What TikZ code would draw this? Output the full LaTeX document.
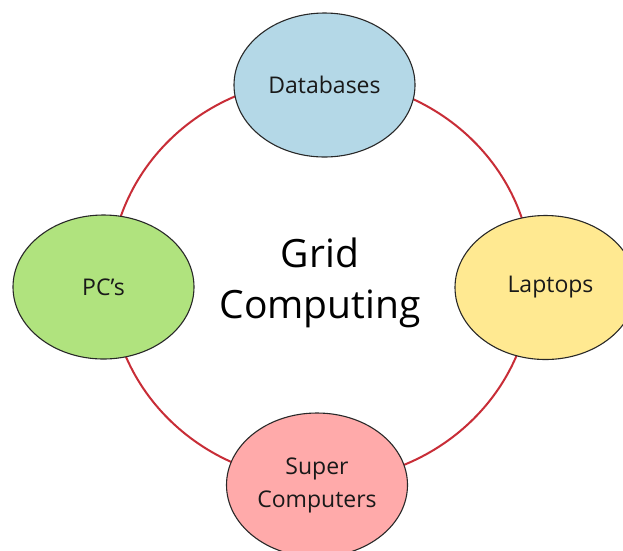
\documentclass[tikz,border=0pt]{standalone}
\usepackage{fontspec}
\setmainfont{Open Sans}
\usetikzlibrary{shapes.geometric}
\definecolor{ringred}{RGB}{200,45,55}
\definecolor{dbblue}{RGB}{180,216,231}
\definecolor{lapyellow}{RGB}{255,233,145}
\definecolor{pcgreen}{RGB}{176,227,126}
\definecolor{scpink}{RGB}{255,170,170}
\definecolor{edge}{RGB}{40,40,40}
\tikzset{
  bubble/.style={ellipse, draw=edge, line width=1.1pt, minimum width=181pt, minimum height=144pt,
    inner sep=0pt, align=center, text=black!90, font=\fontsize{23}{33}\selectfont},
  ring/.style={draw=ringred, line width=2pt},
  title/.style={align=center, font=\fontsize{39}{51}\selectfont, text=black}
}
\begin{document}
\begin{tikzpicture}[x=1pt,y=-1pt]
\useasboundingbox (0,0) rectangle (623,550);
\clip (0,0) rectangle (623,550);
\fill[white] (0,0) rectangle (623,550);
\coordinate (ctr) at (321,280);
\draw[ring] (ctr) ellipse [x radius=211, y radius=201];
\node[bubble, fill=dbblue] (db) at (324.5,85) {Databases};
\node[bubble, fill=lapyellow] (lap) at (545.5,287.5) {\hspace*{10pt}Laptops};
\node[bubble, fill=pcgreen] (pc) at (103.5,287) {PC’s};
\node[bubble, fill=scpink] (sc) at (317,485) {Super\\Computers};
\node[title] (grid) at (320,283) {Grid\\Computing};
\end{tikzpicture}
\end{document}
